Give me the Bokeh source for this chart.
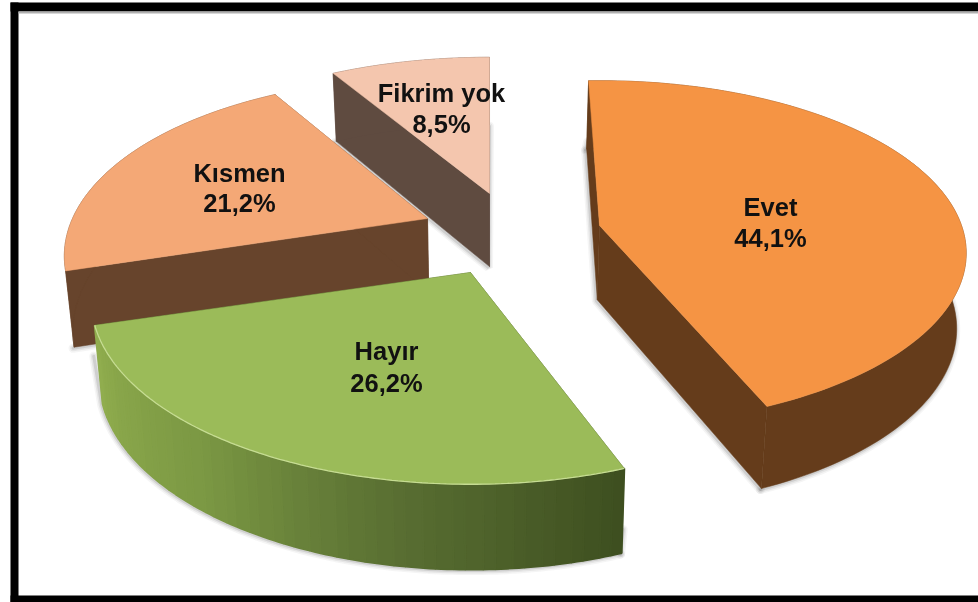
import numpy as np
from bokeh.plotting import figure
from bokeh.core.properties import value
from bokeh.embed import file_html
from bokeh.resources import INLINE

categories = ["Evet", "Hayır", "Kısmen", "Fikrim yok"]
shares = [44.1, 26.2, 21.2, 8.5]

# layout of each exploded slice: apex, radius, squash, perspective, angle nudge
apex = [(599, 225), (470, 272), (427, 218), (489, 193)]
radius_x = [362, 375, 355, 363]
radius_y = [168, 180, 170, 165]
persp = [0.16, 0.15, 0.211, 0.211]
nudge = [-1.0, 1.6, 1.1, 1.0]
tops = ["#f59444", "#9bbb59", "#f4a876", "#f4c6ae"]
walls = ["#653c1b", "#7d9a45", "#67442c", "#5f4b40"]
label_pos = [(770, 206), (386, 350), (239, 172), (441, 92)]
label_pos2 = [(770, 237), (386, 382), (239, 202), (441, 123)]
START = -1.0

W, H = 978, 602
p = figure(width=W, height=H, x_range=(0, W), y_range=(H, 0), output_backend="svg",
           toolbar_location=None, min_border=0, outline_line_color=None,
           background_fill_color="white", border_fill_color="white")
p.styles = {"position": "fixed", "left": "0px", "top": "0px"}
p.axis.visible = False
p.grid.visible = False


def rim(i, t_deg):
    t = np.radians(t_deg)
    u, v = np.sin(t), -np.cos(t)
    w = 1 - persp[i] * v
    return apex[i][0] + radius_x[i] * u / w, apex[i][1] + radius_y[i] * v / w


def drop(x, y):
    return x - (x - 490) * 0.02, y + 65 + 0.042 * y


def lerp_colors(stops, f):
    xs = [s[0] for s in stops]
    r = np.interp(f, xs, [int(s[1][1:3], 16) for s in stops])
    g = np.interp(f, xs, [int(s[1][3:5], 16) for s in stops])
    b = np.interp(f, xs, [int(s[1][5:7], 16) for s in stops])
    return "#%02x%02x%02x" % (int(r), int(g), int(b))


hayir_stops = [(0.0, "#3e4f20"), (0.33, "#5a7033"), (0.65, "#7c9944"), (1.0, "#90ad4e")]

edges = START + np.concatenate([[0], np.cumsum(shares)]) * 3.6
draw_order = [3, 2, 0, 1]
for i in draw_order:
    a0, a1 = edges[i] + nudge[i], edges[i + 1] + nudge[i]
    ts = np.linspace(a0, a1, 120)
    rx, ry = rim(i, ts)
    ax, ay = apex[i]
    bx, by = drop(rx, ry)
    cx, cy = drop(ax, ay)

    # radial faces
    face_x = [[ax, rx[0], bx[0], cx], [ax, rx[-1], bx[-1], cx]]
    face_y = [[ay, ry[0], by[0], cy], [ay, ry[-1], by[-1], cy]]
    dark = "#3e4f20" if i == 1 else walls[i]

    # soft shadow: only along the lower edges of the body
    if i == 0:
        sh_x = [[rx[0], bx[0], cx, bx[-1]], list(bx)]
        sh_y = [[ry[0] + 60, by[0], cy, by[-1]], list(by)]
    elif i == 1:
        sh_x = [[rx[-1], bx[-1]] + list(bx[::-1]), [rx[0], bx[0]]]
        sh_y = [[ry[-1] + 30, by[-1]] + list(by[::-1]), [ry[0] + 60, by[0]]]
    elif i == 2:
        sh_x = [[bx[0], cx]]
        sh_y = [[by[0], cy]]
    else:
        sh_x = [[bx[0], cx, rx[-1] + 1]]
        sh_y = [[by[0], cy, ry[-1] + 68]]
    for lw, al in [(9, 0.05), (6, 0.08), (3, 0.14)]:
        p.multi_line([[v - 1 for v in s] for s in sh_x], [[v + 1 for v in s] for s in sh_y],
                     line_color="#444444", line_width=lw, line_alpha=al, line_cap="round")

    p.patches(face_x, face_y, fill_color=dark, line_color=dark, line_width=0.5)
    if i == 1:
        # outer wall in overlapping strips, so that it can carry a gradient
        n = 48
        idx = np.linspace(0, len(ts) - 1, n + 1).astype(int)
        qx, qy, qc = [], [], []
        for j in range(n):
            s = np.arange(idx[j], idx[j + 1] + 1)
            qx.append(list(rx[s]) + list(bx[s][::-1]))
            qy.append(list(ry[s]) + list(by[s][::-1]))
            qc.append(lerp_colors(hayir_stops, j / (n - 1)))
        p.patches(qx, qy, fill_color=qc, line_color=qc, line_width=2)
    else:
        p.patch(np.r_[rx, bx[::-1]], np.r_[ry, by[::-1]], fill_color=walls[i],
                line_color=walls[i], line_width=0.5)
    # top surface
    p.patch(np.r_[ax, rx], np.r_[ay, ry], fill_color=tops[i], line_color=tops[i], line_width=0.5)
    if i == 1:
        p.line(rx, ry, line_color="#c6dc93", line_width=1.3)

for i, name in enumerate(categories):
    pct = f"{shares[i]:.1f}".replace(".", ",") + "%"
    for txt, (lx, ly) in ((name, label_pos[i]), (pct, label_pos2[i])):
        p.text([lx], [ly], text=[txt], text_font=value("Liberation Sans"), text_font_style="bold",
               text_font_size="25.5px", text_color="#111111", text_align="center",
               text_baseline="alphabetic")

# picture frame
p.quad(left=[10, 10, 10], right=[W, 18, W], top=[2, 2, 595], bottom=[11, H, H],
       fill_color="black", line_color=None)
p.quad(left=[18], right=[W], top=[11], bottom=[13], fill_color="#b0b0b0", line_color=None)

open("out.html", "w").write(file_html(p, INLINE))
